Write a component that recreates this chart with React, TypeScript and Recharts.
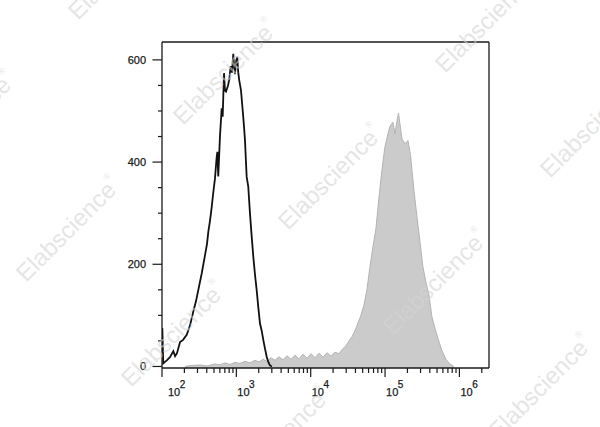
import React from "react";
import { ComposedChart, Area, Line, XAxis, YAxis, ReferenceLine } from "recharts";

// Isotype / unstained control histogram (black outline)
const isotypeIntensity = [
  101, 104, 116, 128, 142, 150, 159, 175, 192, 215, 238, 264, 287, 308, 342, 379, 403, 420, 442, 466,
  489, 516, 544, 556, 571, 602, 635, 655, 682, 703, 726, 772, 804, 839, 874, 910, 930, 959, 995, 1029,
  1061, 1094, 1153, 1216, 1267, 1306, 1347, 1377, 1446, 1524, 1597, 1690, 1780, 1875, 1972, 2079, 2191,
  2303, 2427, 2558, 2688, 2831, 3010,
];
const isotypeCount = [
  75, 6, 12, 18, 30, 20, 26, 48, 52, 62, 80, 108, 128, 150, 182, 218, 240, 264, 285, 312,
  340, 368, 410, 420, 372, 450, 505, 489, 574, 540, 538, 550, 562, 588, 575, 612, 590, 572, 598, 606,
  575, 560, 541, 502, 470, 443, 400, 371, 352, 300, 260, 215, 180, 150, 116, 84, 70,
  52, 35, 19, 9, 2, 0,
];

// Stained sample histogram (grey filled)
const stainedIntensity = [
  204, 253, 324, 403, 516, 602, 703, 820, 959, 1119, 1306, 1524, 1780, 2013, 2281, 2582, 2923, 3306,
  3743, 4236, 4795, 5428, 6143, 6953, 7871, 8909, 10080, 11410, 12920, 14620, 16550, 18720, 21200,
  23990, 27150, 29780, 32670, 35860, 39340, 43160, 47400, 52000, 57040, 62620, 68720, 75400, 82760,
  90800, 99600, 109300, 116300, 127600, 135800, 144500, 151400, 158500, 168700, 185000, 203200,
  219300, 229900, 244600, 268400, 294400, 323000, 354600, 389000, 426800, 468800, 514000, 581900,
  658000, 745000, 843000,
];
const stainedCount = [
  0, 2, 3, 1, 5, 3, 7, 4, 8, 6, 10, 7, 12, 9, 14, 10, 17, 12,
  19, 13, 21, 14, 22, 15, 24, 16, 25, 17, 26, 18, 27, 20, 28,
  25, 35, 40, 50, 58, 70, 85, 100, 120, 150, 195, 234, 270, 330,
  385, 430, 455, 470, 478, 455, 480, 496, 475, 445, 436, 442,
  415, 385, 345, 293, 245, 195, 165, 140, 97, 75, 55, 31,
  14, 5, 0,
];

const yTickValues = [0, 50, 100, 150, 200, 250, 300, 350, 400, 450, 500, 550, 600];
const yLabelValues = [0, 200, 400, 600];
const decadeExponents = [2, 3, 4, 5, 6];
const mantissas = [1, 2, 3, 4, 5, 6, 7, 8, 9];

const X_MIN = 100;
const X_MAX = 2500000;
const Y_MIN = -3;
const Y_MAX = 635;

const xTickValues = decadeExponents
  .flatMap((d) => mantissas.map((m) => m * Math.pow(10, d)))
  .filter((v) => v <= X_MAX);

const rows = (() => {
  const map = new Map<number, any>();
  isotypeIntensity.forEach((x, i) => {
    const r = map.get(x) ?? { x };
    r.isotype = isotypeCount[i];
    map.set(x, r);
  });
  stainedIntensity.forEach((x, i) => {
    const r = map.get(x) ?? { x };
    r.stained = stainedCount[i];
    map.set(x, r);
  });
  return [...map.values()].sort((a, b) => a.x - b.x);
})();

const FONT = "Arial, 'Liberation Sans', sans-serif";
const INK = "#1a1a1a";

const XTick = (props: any) => {
  const { x, y, payload } = props;
  const v = payload.value;
  const exp = Math.log10(v);
  const major = Math.abs(exp - Math.round(exp)) < 1e-9;
  return (
    <g>
      <line x1={x} x2={x} y1={y} y2={y + (major ? 9 : 5)} stroke={INK} strokeWidth={1.2} />
      {major && (
        <text
          x={x + (v === X_MIN ? 6 : 1)}
          y={y + 28}
          fontSize={11}
          fill={INK}
          stroke={INK}
          strokeWidth={0.25}
          fontFamily={FONT}
        >
          10<tspan dx={-0.5} dy={-8} fontSize={10}>{Math.round(exp)}</tspan>
        </text>
      )}
    </g>
  );
};

const YTick = (props: any) => {
  const { x, y, payload } = props;
  const v = payload.value;
  const major = yLabelValues.includes(v);
  return (
    <g>
      <line x1={x - (major ? 9.5 : 4)} x2={x} y1={y} y2={y} stroke={INK} strokeWidth={1.2} />
      {major && (
        <text
          x={x - 16}
          y={y}
          textAnchor="end"
          dominantBaseline="central"
          fontSize={11}
          fill={INK}
          stroke={INK}
          strokeWidth={0.25}
          fontFamily={FONT}
        >
          {v}
        </text>
      )}
    </g>
  );
};

const watermarkCenters = (() => {
  const out: { cx: number; cy: number }[] = [];
  for (let i = -1; i <= 3; i++) {
    for (let j = -2; j <= 2; j++) {
      const cx = 225 + i * 105 + j * 157;
      const cy = 72 + i * 105 - j * 157;
      if (cx > -120 && cx < 720 && cy > -120 && cy < 550) out.push({ cx, cy });
    }
  }
  return out;
})();

const Watermarks = () => (
  <svg
    width={600}
    height={427}
    style={{ position: "absolute", left: 0, top: 0, pointerEvents: "none" }}
  >
    {watermarkCenters.map((p, k) => (
      <text
        key={k}
        x={p.cx}
        y={p.cy}
        textAnchor="middle"
        dominantBaseline="central"
        fontSize={24}
        fontFamily={FONT}
        fill="#d4d4d4"
        fillOpacity={0.6}
        transform={`rotate(-45 ${p.cx} ${p.cy})`}
      >
        Elabscience<tspan dy={-10} fontSize={9}>®</tspan>
      </text>
    ))}
  </svg>
);

export default function App() {
  return (
    <div style={{ position: "absolute", left: 0, top: 0, width: 600, height: 427, background: "#fff" }}>
      <ComposedChart
        width={600}
        height={427}
        data={rows}
        margin={{ top: 42, right: 111, bottom: 19, left: 102 }}
      >
        <XAxis
          dataKey="x"
          type="number"
          scale="log"
          domain={[X_MIN, X_MAX]}
          allowDataOverflow
          ticks={xTickValues}
          interval={0}
          tick={<XTick />}
          tickLine={false}
          tickSize={0}
          tickMargin={0}
          height={40}
          axisLine={{ stroke: INK, strokeWidth: 1.3 }}
        />
        <YAxis
          type="number"
          domain={[Y_MIN, Y_MAX]}
          allowDataOverflow
          ticks={yTickValues}
          interval={0}
          tick={<YTick />}
          tickLine={false}
          tickSize={0}
          tickMargin={0}
          width={60}
          axisLine={{ stroke: INK, strokeWidth: 1.3 }}
        />
        <ReferenceLine y={Y_MAX} stroke={INK} strokeWidth={1.3} ifOverflow="visible" />
        <ReferenceLine x={X_MAX} stroke={INK} strokeWidth={1.3} ifOverflow="visible" />
        <Area
          dataKey="stained"
          type="linear"
          baseValue={Y_MIN}
          fill="#cbcbcb"
          fillOpacity={1}
          stroke="#b3b3b3"
          strokeWidth={1}
          connectNulls
          dot={false}
          activeDot={false}
          isAnimationActive={false}
        />
        <Line
          dataKey="isotype"
          type="linear"
          stroke="#111"
          strokeWidth={1.8}
          connectNulls
          dot={false}
          activeDot={false}
          isAnimationActive={false}
        />
      </ComposedChart>
      <Watermarks />
    </div>
  );
}
